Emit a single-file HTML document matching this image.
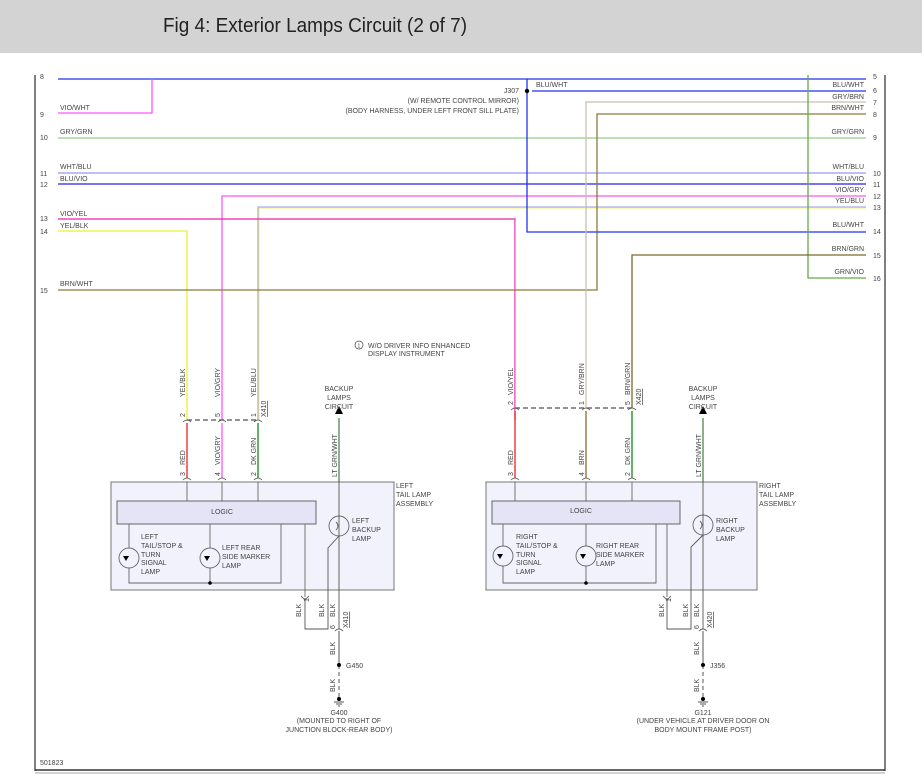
<!DOCTYPE html>
<html><head><meta charset="utf-8"><style>
html,body{margin:0;padding:0;background:#fff;}
svg{display:block;}
text{font-family:"Liberation Sans",sans-serif;fill:#444;font-size:7px;}
</style></head><body>
<svg width="922" height="784" viewBox="0 0 922 784" xmlns="http://www.w3.org/2000/svg">
<rect x="0" y="0" width="922" height="53" fill="#d3d3d3"/>
<text x="163" y="32" style="font-size:20px;fill:#222" textLength="304" lengthAdjust="spacingAndGlyphs">Fig 4: Exterior Lamps Circuit (2 of 7)</text>
<!-- frame -->
<line x1="35" y1="75" x2="35" y2="771" stroke="#555" stroke-width="1.5"/>
<line x1="885" y1="75" x2="885" y2="771" stroke="#555" stroke-width="1.5"/>
<line x1="35" y1="770" x2="885" y2="770" stroke="#333" stroke-width="1.5"/>
<line x1="35" y1="773" x2="885" y2="773" stroke="#aaa" stroke-width="1"/>
<text x="40" y="765">501823</text>

<g style="font-size:6.5px">
<text x="40" y="79">8</text><text x="40" y="117">9</text><text x="40" y="140">10</text>
<text x="40" y="176">11</text><text x="40" y="187">12</text><text x="40" y="221">13</text>
<text x="40" y="234">14</text><text x="40" y="293">15</text>
<text x="873" y="79">5</text><text x="873" y="93">6</text><text x="873" y="105">7</text>
<text x="873" y="117">8</text><text x="873" y="140">9</text><text x="873" y="176">10</text>
<text x="873" y="187">11</text><text x="873" y="199">12</text><text x="873" y="210">13</text>
<text x="873" y="234">14</text><text x="873" y="258">15</text><text x="873" y="281">16</text>
</g>

<g fill="none" stroke-width="1.3">
<polyline points="58,79 866,79" stroke="#2233ee"/>
<polyline points="58,113 152,113 152,79" stroke="#ff55ff"/>
<line x1="58" y1="138" x2="866" y2="138" stroke="#99cc88"/>
<line x1="58" y1="173" x2="866" y2="173" stroke="#9999ee"/>
<line x1="58" y1="184" x2="866" y2="184" stroke="#2222ee"/>
<polyline points="222,420 222,196 866,196" stroke="#ff55ff"/>
<polyline points="258,420 258,207 866,207" stroke="#aaaaee"/>
<polyline points="259,420 259,208 866,208" stroke="#eeee44" stroke-width="0.8"/>
<polyline points="58,219 515,219 515,420" stroke="#ee22aa"/>
<polyline points="515.6,219.6 515.6,420" stroke="#eeee44" stroke-width="0.7"/>
<polyline points="58,231 187,231 187,420" stroke="#eeee33"/>
<polyline points="58,290 597,290 597,114 866,114" stroke="#8b7a3a"/>
<polyline points="527,79 527,232 866,232" stroke="#2233ee"/>
<line x1="532" y1="91" x2="866" y2="91" stroke="#2233ee"/>
<polyline points="586,408 586,102 866,102" stroke="#c8c0b0"/>
<polyline points="808,75 808,278 866,278" stroke="#66aa44"/>
<polyline points="632,408 632,255 866,255" stroke="#7a6a2a"/>
</g>
<circle cx="527" cy="91" r="2.2" fill="#000"/>
<text x="536" y="87">BLU/WHT</text>
<g text-anchor="end">
<text x="519" y="93">J307</text>
<text x="519" y="103">(W/ REMOTE CONTROL MIRROR)</text>
<text x="519" y="113">(BODY HARNESS, UNDER LEFT FRONT SILL PLATE)</text>
<text x="864" y="87">BLU/WHT</text><text x="864" y="99">GRY/BRN</text><text x="864" y="110">BRN/WHT</text>
<text x="864" y="134">GRY/GRN</text><text x="864" y="169">WHT/BLU</text><text x="864" y="181">BLU/VIO</text>
<text x="864" y="192">VIO/GRY</text><text x="864" y="203">YEL/BLU</text><text x="864" y="227">BLU/WHT</text>
<text x="864" y="251">BRN/GRN</text><text x="864" y="274">GRN/VIO</text>
</g>
<text x="60" y="110">VIO/WHT</text><text x="60" y="134">GRY/GRN</text><text x="60" y="169">WHT/BLU</text>
<text x="60" y="181">BLU/VIO</text><text x="60" y="216">VIO/YEL</text><text x="60" y="228">YEL/BLK</text>
<text x="60" y="286">BRN/WHT</text>

<circle cx="359" cy="345" r="4" fill="none" stroke="#444" stroke-width="0.7"/>
<text x="357.5" y="347.5" style="font-size:5px">1</text>
<text x="368" y="348">W/O DRIVER INFO ENHANCED</text>
<text x="368" y="356">DISPLAY INSTRUMENT</text>

<g stroke-width="1.3" fill="none">
<line x1="187" y1="423" x2="187" y2="478" stroke="#ee2222"/>
<line x1="222" y1="423" x2="222" y2="478" stroke="#ff55ff"/>
<line x1="258" y1="423" x2="258" y2="478" stroke="#118811"/>
<line x1="339" y1="418" x2="339" y2="482" stroke="#44ee44"/>
<line x1="187" y1="420" x2="258" y2="420" stroke="#555" stroke-dasharray="5,3"/>
<line x1="515" y1="408" x2="632" y2="408" stroke="#555" stroke-dasharray="5,3"/>
<line x1="515" y1="411" x2="515" y2="478" stroke="#ee2222"/>
<line x1="586" y1="411" x2="586" y2="478" stroke="#8b6a2a"/>
<line x1="632" y1="411" x2="632" y2="478" stroke="#118811"/>
<line x1="703" y1="418" x2="703" y2="482" stroke="#44ee44"/>
</g>
<g fill="none" stroke="#555" stroke-width="0.8">
<path d="M183,422 q4,-4 8,0 M218,422 q4,-4 8,0 M254,422 q4,-4 8,0 M183,480 q4,-4 8,0 M218,480 q4,-4 8,0 M254,480 q4,-4 8,0"/>
<path d="M511,410 q4,-4 8,0 M582,410 q4,-4 8,0 M628,410 q4,-4 8,0 M511,480 q4,-4 8,0 M582,480 q4,-4 8,0 M628,480 q4,-4 8,0"/>
</g>
<polygon points="335,414 343,414 339,406" fill="#000"/>
<polygon points="699,414 707,414 703,406" fill="#000"/>
<g text-anchor="middle">
<text x="339" y="391">BACKUP</text><text x="339" y="400">LAMPS</text><text x="339" y="409">CIRCUIT</text>
<text x="703" y="391">BACKUP</text><text x="703" y="400">LAMPS</text><text x="703" y="409">CIRCUIT</text>
</g>
<g style="font-size:6.5px">
<text transform="translate(185,397) rotate(-90)">YEL/BLK</text>
<text transform="translate(220,397) rotate(-90)">VIO/GRY</text>
<text transform="translate(256,397) rotate(-90)">YEL/BLU</text>
<text transform="translate(185,417) rotate(-90)">2</text>
<text transform="translate(220,417) rotate(-90)">5</text>
<text transform="translate(256,417) rotate(-90)">1</text>
<text transform="translate(266,417) rotate(-90)" text-decoration="underline">X410</text>
<text transform="translate(185,465) rotate(-90)">RED</text>
<text transform="translate(220,465) rotate(-90)">VIO/GRY</text>
<text transform="translate(256,465) rotate(-90)">DK GRN</text>
<text transform="translate(185,476) rotate(-90)">3</text>
<text transform="translate(220,476) rotate(-90)">4</text>
<text transform="translate(256,476) rotate(-90)">2</text>
<text transform="translate(337,477) rotate(-90)">LT GRN/WHT</text>
<text transform="translate(513,395) rotate(-90)">VIO/YEL</text>
<text transform="translate(584,395) rotate(-90)">GRY/BRN</text>
<text transform="translate(630,395) rotate(-90)">BRN/GRN</text>
<text transform="translate(513,405) rotate(-90)">2</text>
<text transform="translate(584,405) rotate(-90)">1</text>
<text transform="translate(630,405) rotate(-90)">5</text>
<text transform="translate(641,405) rotate(-90)" text-decoration="underline">X420</text>
<text transform="translate(513,465) rotate(-90)">RED</text>
<text transform="translate(584,465) rotate(-90)">BRN</text>
<text transform="translate(630,465) rotate(-90)">DK GRN</text>
<text transform="translate(513,476) rotate(-90)">3</text>
<text transform="translate(584,476) rotate(-90)">4</text>
<text transform="translate(630,476) rotate(-90)">2</text>
<text transform="translate(701,477) rotate(-90)">LT GRN/WHT</text>
</g>

<!-- Left box -->
<rect x="111" y="482" width="283" height="108" fill="#f2f2fc" stroke="#777" stroke-width="1"/>
<rect x="117" y="501" width="199" height="23" fill="#e4e4f6" stroke="#666" stroke-width="1"/>
<text x="222" y="514" text-anchor="middle">LOGIC</text>
<g stroke="#666" stroke-width="0.9" fill="none">
<line x1="187" y1="482" x2="187" y2="501"/><line x1="222" y1="482" x2="222" y2="501"/><line x1="258" y1="482" x2="258" y2="501"/>
<polyline points="129,524 129,583 281,583 281,524"/>
<line x1="210" y1="524" x2="210" y2="583"/>
<line x1="305" y1="524" x2="305" y2="597"/>
<circle cx="129" cy="558" r="10" fill="#f2f2fc"/>
<circle cx="210" cy="558" r="10" fill="#f2f2fc"/>
<circle cx="339" cy="526" r="10" fill="#f2f2fc"/>
<line x1="339" y1="418" x2="339" y2="629" stroke="#555"/>
<polyline points="339,536 328,548 328,629 305,629 305,598" stroke="#555"/>
<path d="M336,522 q4,4 0,8" />
<path d="M301,596 l4,4 l4,-4 M335,631 q4,-4 8,0"/>
</g>
<g fill="#000"><polygon points="123,556 129,556 126,561"/><polygon points="204,556 210,556 207,561"/></g>
<circle cx="210" cy="583" r="1.8" fill="#000"/>
<g>
<text x="141" y="539">LEFT</text><text x="141" y="548">TAIL/STOP &amp;</text><text x="141" y="557">TURN</text><text x="141" y="565">SIGNAL</text><text x="141" y="574">LAMP</text>
<text x="222" y="550">LEFT REAR</text><text x="222" y="559">SIDE MARKER</text><text x="222" y="568">LAMP</text>
<text x="352" y="523">LEFT</text><text x="352" y="532">BACKUP</text><text x="352" y="541">LAMP</text>
<text x="396" y="488">LEFT</text><text x="396" y="497">TAIL LAMP</text><text x="396" y="506">ASSEMBLY</text>
</g>

<!-- Right box -->
<rect x="486" y="482" width="271" height="108" fill="#f2f2fc" stroke="#777" stroke-width="1"/>
<rect x="492" y="501" width="188" height="23" fill="#e4e4f6" stroke="#666" stroke-width="1"/>
<text x="581" y="513" text-anchor="middle">LOGIC</text>
<g stroke="#666" stroke-width="0.9" fill="none">
<line x1="515" y1="482" x2="515" y2="501"/><line x1="586" y1="482" x2="586" y2="501"/><line x1="632" y1="482" x2="632" y2="501"/>
<polyline points="503,524 503,583 656,583 656,524"/>
<line x1="586" y1="524" x2="586" y2="583"/>
<line x1="667" y1="524" x2="667" y2="597"/>
<circle cx="503" cy="556" r="10" fill="#f2f2fc"/>
<circle cx="586" cy="556" r="10" fill="#f2f2fc"/>
<circle cx="703" cy="525" r="10" fill="#f2f2fc"/>
<line x1="703" y1="418" x2="703" y2="629" stroke="#555"/>
<polyline points="703,535 691,547 691,629 667,629 667,598" stroke="#555"/>
<path d="M700,521 q4,4 0,8"/>
<path d="M663,596 l4,4 l4,-4 M699,631 q4,-4 8,0"/>
</g>
<g fill="#000"><polygon points="497,554 503,554 500,559"/><polygon points="580,554 586,554 583,559"/></g>
<circle cx="586" cy="583" r="1.8" fill="#000"/>
<g>
<text x="516" y="539">RIGHT</text><text x="516" y="548">TAIL/STOP &amp;</text><text x="516" y="557">TURN</text><text x="516" y="565">SIGNAL</text><text x="516" y="574">LAMP</text>
<text x="596" y="548">RIGHT REAR</text><text x="596" y="557">SIDE MARKER</text><text x="596" y="566">LAMP</text>
<text x="716" y="523">RIGHT</text><text x="716" y="532">BACKUP</text><text x="716" y="541">LAMP</text>
<text x="759" y="488">RIGHT</text><text x="759" y="497">TAIL LAMP</text><text x="759" y="506">ASSEMBLY</text>
</g>

<!-- grounds -->
<g stroke="#555" stroke-width="1" fill="none">
<line x1="339" y1="631" x2="339" y2="665"/>
<line x1="339" y1="665" x2="339" y2="698" stroke-dasharray="4,3"/>
<line x1="703" y1="631" x2="703" y2="665"/>
<line x1="703" y1="665" x2="703" y2="698" stroke-dasharray="4,3"/>
<path d="M334,702 h10 M336,704 h6 M338,706 h2 M698,702 h10 M700,704 h6 M702,706 h2"/>
</g>
<circle cx="339" cy="665" r="2" fill="#000"/><circle cx="339" cy="699" r="2" fill="#000"/>
<circle cx="703" cy="665" r="2" fill="#000"/><circle cx="703" cy="699" r="2" fill="#000"/>
<text x="346" y="668">G450</text><text x="710" y="668">J356</text>
<g style="font-size:6.5px">
<text transform="translate(301,617) rotate(-90)">BLK</text>
<text transform="translate(302,607) rotate(-90)"></text>
<text transform="translate(309,602) rotate(-90)">1</text>
<text transform="translate(324,617) rotate(-90)">BLK</text>
<text transform="translate(335,617) rotate(-90)">BLK</text>
<text transform="translate(335,629) rotate(-90)">6</text>
<text transform="translate(348,628) rotate(-90)" text-decoration="underline">X410</text>
<text transform="translate(335,655) rotate(-90)">BLK</text>
<text transform="translate(335,692) rotate(-90)">BLK</text>
<text transform="translate(664,617) rotate(-90)">BLK</text>
<text transform="translate(671,602) rotate(-90)">1</text>
<text transform="translate(688,617) rotate(-90)">BLK</text>
<text transform="translate(699,617) rotate(-90)">BLK</text>
<text transform="translate(699,629) rotate(-90)">6</text>
<text transform="translate(712,628) rotate(-90)" text-decoration="underline">X420</text>
<text transform="translate(699,655) rotate(-90)">BLK</text>
<text transform="translate(699,692) rotate(-90)">BLK</text>
</g>
<g text-anchor="middle">
<text x="339" y="715">G400</text><text x="339" y="723">(MOUNTED TO RIGHT OF</text><text x="339" y="732">JUNCTION BLOCK-REAR BODY)</text>
<text x="703" y="715">G121</text><text x="703" y="723">(UNDER VEHICLE AT DRIVER DOOR ON</text><text x="703" y="732">BODY MOUNT FRAME POST)</text>
</g>
</svg>
</body></html>
